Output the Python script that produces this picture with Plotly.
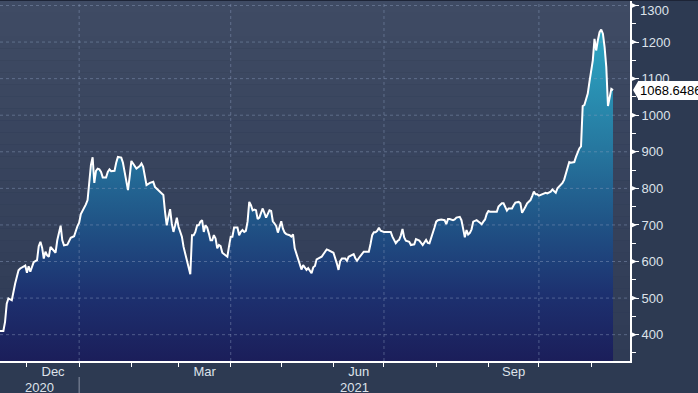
import plotly.graph_objects as go
import pandas as pd

# ---------------- data ----------------
dates = [
    "2020-11-15", "2020-11-17", "2020-11-18", "2020-11-19", "2020-11-20", "2020-11-22", "2020-11-24",
    "2020-11-26", "2020-11-27", "2020-11-29", "2020-11-30", "2020-12-01", "2020-12-02", "2020-12-03",
    "2020-12-04", "2020-12-05", "2020-12-07", "2020-12-08", "2020-12-09", "2020-12-10", "2020-12-11",
    "2020-12-12", "2020-12-13", "2020-12-14", "2020-12-15", "2020-12-17", "2020-12-18", "2020-12-19",
    "2020-12-20", "2020-12-21", "2020-12-22", "2020-12-23", "2020-12-25", "2020-12-26", "2020-12-27",
    "2020-12-28", "2020-12-29", "2020-12-31", "2021-01-01", "2021-01-02", "2021-01-03", "2021-01-04",
    "2021-01-05", "2021-01-06", "2021-01-07", "2021-01-08", "2021-01-09", "2021-01-10", "2021-01-11",
    "2021-01-12", "2021-01-13", "2021-01-14", "2021-01-15", "2021-01-17", "2021-01-18", "2021-01-19",
    "2021-01-20", "2021-01-22", "2021-01-23", "2021-01-24", "2021-01-26", "2021-01-27", "2021-01-28",
    "2021-01-29", "2021-01-30", "2021-01-31", "2021-02-01", "2021-02-02", "2021-02-03", "2021-02-04",
    "2021-02-06", "2021-02-07", "2021-02-08", "2021-02-09", "2021-02-10", "2021-02-12", "2021-02-14",
    "2021-02-15", "2021-02-16", "2021-02-18", "2021-02-20", "2021-02-21", "2021-02-22", "2021-02-23",
    "2021-02-24", "2021-02-25", "2021-02-26", "2021-02-27", "2021-02-28", "2021-03-01", "2021-03-03",
    "2021-03-04", "2021-03-06", "2021-03-07", "2021-03-08", "2021-03-09", "2021-03-10", "2021-03-11",
    "2021-03-12", "2021-03-13", "2021-03-14", "2021-03-15", "2021-03-16", "2021-03-17", "2021-03-18",
    "2021-03-19", "2021-03-20", "2021-03-21", "2021-03-22", "2021-03-23", "2021-03-24", "2021-03-25",
    "2021-03-26", "2021-03-27", "2021-03-29", "2021-03-30", "2021-03-31", "2021-04-01", "2021-04-02",
    "2021-04-03", "2021-04-05", "2021-04-06", "2021-04-07", "2021-04-08", "2021-04-09", "2021-04-10",
    "2021-04-11", "2021-04-12", "2021-04-13", "2021-04-14", "2021-04-15", "2021-04-16", "2021-04-17",
    "2021-04-18", "2021-04-19", "2021-04-20", "2021-04-22", "2021-04-23", "2021-04-24", "2021-04-25",
    "2021-04-26", "2021-04-27", "2021-04-28", "2021-04-29", "2021-04-30", "2021-05-01", "2021-05-02",
    "2021-05-03", "2021-05-04", "2021-05-06", "2021-05-07", "2021-05-08", "2021-05-09", "2021-05-10",
    "2021-05-12", "2021-05-13", "2021-05-14", "2021-05-15", "2021-05-16", "2021-05-17", "2021-05-19",
    "2021-05-20", "2021-05-21", "2021-05-22", "2021-05-23", "2021-05-25", "2021-05-26", "2021-05-28",
    "2021-05-29", "2021-05-31", "2021-06-01", "2021-06-03", "2021-06-04", "2021-06-05", "2021-06-06",
    "2021-06-08", "2021-06-09", "2021-06-10", "2021-06-11", "2021-06-13", "2021-06-14", "2021-06-15",
    "2021-06-16", "2021-06-18", "2021-06-19", "2021-06-20", "2021-06-22", "2021-06-23", "2021-06-24",
    "2021-06-25", "2021-06-26", "2021-06-27", "2021-06-28", "2021-06-29", "2021-07-01", "2021-07-03",
    "2021-07-05", "2021-07-06", "2021-07-08", "2021-07-09", "2021-07-10", "2021-07-11", "2021-07-12",
    "2021-07-13", "2021-07-14", "2021-07-16", "2021-07-17", "2021-07-19", "2021-07-20", "2021-07-22",
    "2021-07-23", "2021-07-24", "2021-07-26", "2021-07-27", "2021-07-28", "2021-07-29", "2021-07-30",
    "2021-07-31", "2021-08-01", "2021-08-02", "2021-08-04", "2021-08-06", "2021-08-07", "2021-08-08",
    "2021-08-09", "2021-08-11", "2021-08-12", "2021-08-13", "2021-08-15", "2021-08-16", "2021-08-17",
    "2021-08-18", "2021-08-19", "2021-08-20", "2021-08-21", "2021-08-22", "2021-08-23", "2021-08-24",
    "2021-08-25", "2021-08-27", "2021-08-28", "2021-08-29", "2021-08-30", "2021-08-31", "2021-09-01",
    "2021-09-02", "2021-09-04", "2021-09-06", "2021-09-07", "2021-09-09", "2021-09-10", "2021-09-11",
    "2021-09-12", "2021-09-13", "2021-09-15", "2021-09-16", "2021-09-17", "2021-09-19", "2021-09-20",
    "2021-09-21", "2021-09-22", "2021-09-23", "2021-09-24", "2021-09-26", "2021-09-27", "2021-09-28",
    "2021-09-29", "2021-09-30", "2021-10-01", "2021-10-04", "2021-10-05", "2021-10-06", "2021-10-08",
    "2021-10-09", "2021-10-10", "2021-10-11", "2021-10-12", "2021-10-14", "2021-10-15", "2021-10-16",
    "2021-10-17", "2021-10-18", "2021-10-19", "2021-10-20", "2021-10-22", "2021-10-23", "2021-10-24",
    "2021-10-25", "2021-10-26", "2021-10-27", "2021-10-28", "2021-10-29", "2021-10-30", "2021-10-31",
    "2021-11-01", "2021-11-02", "2021-11-03", "2021-11-04", "2021-11-05", "2021-11-06", "2021-11-07",
    "2021-11-08", "2021-11-09", "2021-11-10", "2021-11-11", "2021-11-12", "2021-11-13", "2021-11-14",
]
values = [
    410, 410, 435, 485, 499, 494, 540,
    576, 581, 587, 589, 569, 587, 572,
    587, 598, 604, 642, 654, 638, 608,
    627, 617, 613, 640, 629, 624, 658,
    681, 698, 658, 644, 646, 654, 665,
    667, 669, 697, 706, 730, 739, 745,
    756, 768, 822, 864, 885, 815, 848,
    854, 852, 845, 830, 830, 845, 852,
    847, 848, 870, 886, 884, 870, 845,
    815, 795, 832, 875, 868, 861, 854,
    861, 868, 859, 832, 809, 815, 818,
    804, 800, 791, 782, 736, 699, 722,
    743, 704, 681, 699, 720, 695, 668,
    640, 599, 581, 565, 672, 672, 681,
    699, 699, 709, 713, 681, 699, 693,
    677, 658, 658, 672, 663, 636, 645,
    642, 624, 615, 613, 642, 668, 668,
    693, 693, 672, 681, 686, 681, 684,
    709, 763, 754, 740, 742, 740, 716,
    720, 733, 745, 720, 729, 740, 738,
    710, 704, 697, 679, 695, 710, 690,
    679, 675, 672, 668, 674, 636, 622,
    595, 578, 590, 584, 577, 582, 568,
    584, 588, 606, 609, 613, 620, 633,
    631, 627, 624, 595, 577, 601, 608,
    608, 602, 613, 615, 620, 609, 602,
    609, 620, 627, 627, 627, 648, 672,
    680, 680, 684, 692, 684, 681, 681,
    681, 668, 650, 656, 659, 671, 689,
    666, 657, 654, 645, 647, 661, 657,
    651, 645, 659, 651, 650, 663, 681,
    693, 709, 713, 715, 713, 702, 716,
    716, 713, 715, 720, 722, 713, 690,
    666, 686, 674, 678, 688, 709, 711,
    713, 706, 702, 709, 715, 730, 738,
    736, 736, 736, 750, 759, 759, 750,
    739, 745, 745, 754, 761, 763, 759,
    733, 740, 750, 759, 768, 779, 791,
    784, 784, 780, 785, 788, 786, 791,
    797, 791, 788, 800, 809, 815, 824,
    840, 854, 872, 870, 872, 886, 900,
    909, 915, 1025, 1028, 1041, 1059, 1091,
    1123, 1150, 1209, 1177, 1205, 1227, 1234,
    1223, 1186, 1132, 1025, 1050, 1072, 1068.6486,
]
assert len(dates) == len(values)
last_label = "1068.6486"

y_ticks = [400, 500, 600, 700, 800, 900, 1000, 1100, 1200, 1300]
y_ticktext = ["400", "500", "600", "700", "800", "900", "1000", "1100", "1200", "1300"]
month_label_starts = ["2020-12-01", "2021-03-01", "2021-06-01", "2021-09-01"]
month_labels = ["Dec", "Mar", "Jun", "Sep"]
grid_dates = ["2021-01-01", "2021-04-01", "2021-07-01", "2021-10-01"]
years = ["2020", "2021"]
year_break = "2021-01-01"

# ---------------- layout constants ----------------
W, H = 698, 393
M_L, M_R, M_T, M_B = 0, 68, 0, 32
PW = W - M_L - M_R
PH = H - M_T - M_B
X_RANGE = ["2020-11-15", "2021-11-24 02:00"]
Y_RANGE = [328, 1315]
PX_PER_UNIT = PH / (Y_RANGE[1] - Y_RANGE[0])

PAPER_BG = "#2d3a52"
BG_TOP = (63, 75, 100)
BG_BOT = (47, 59, 85)
GRID = "rgba(140,158,190,0.45)"
TEXT = "#dde2ea"
FONT = "Liberation Sans, Arial, sans-serif"

fig = go.Figure()

# area fill with vertical gradient
fig.add_trace(go.Scatter(
    x=dates, y=values, mode="none", fill="tozeroy",
    fillgradient=dict(
        type="vertical",
        colorscale=[
            [0.0, "#1b1e5a"],
            [0.2, "#1d3170"],
            [0.42, "#205587"],
            [0.63, "#26779f"],
            [0.84, "#2a95b6"],
            [1.0, "#2ea8c4"],
        ],
        start=Y_RANGE[0], stop=1250,
    ),
    hoverinfo="skip", showlegend=False,
))

# dashed grid lines (drawn over the fill, under the line)
for v in y_ticks:
    fig.add_trace(go.Scatter(
        x=X_RANGE, y=[v, v], mode="lines",
        line=dict(color=GRID, width=1, dash="3px,3px"),
        hoverinfo="skip", showlegend=False,
    ))
for d in grid_dates:
    fig.add_trace(go.Scatter(
        x=[d, d], y=Y_RANGE, mode="lines",
        line=dict(color=GRID, width=1, dash="3px,3px"),
        hoverinfo="skip", showlegend=False,
    ))

# the price line
fig.add_trace(go.Scatter(
    x=dates, y=values, mode="lines",
    line=dict(color="white", width=2),
    hoverinfo="skip", showlegend=False,
))

shapes = []
# plot background gradient bands
N = 30
for i in range(N):
    t = i / (N - 1)
    c = tuple(round(BG_BOT[k] + (BG_TOP[k] - BG_BOT[k]) * t) for k in range(3))
    shapes.append(dict(
        type="rect", xref="paper", yref="paper", x0=0, x1=1,
        y0=i / N, y1=(i + 1) / N, fillcolor="rgb(%d,%d,%d)" % c,
        line=dict(width=0), layer="below",
    ))

# triangular tick markers on the right axis
tri_h = 3.2 / PX_PER_UNIT
tri_w = 7 / PW
for v in y_ticks:
    shapes.append(dict(
        type="path", xref="paper", yref="y",
        path="M 1,%f L %f,%f L 1,%f Z" % (v + tri_h, 1 + tri_w, v, v - tri_h),
        fillcolor="white", line=dict(width=0), layer="above",
    ))

# pointer of the last-value label
ptr_h = 9.5 / PX_PER_UNIT
shapes.append(dict(
    type="path", xref="paper", yref="y",
    path="M %f,%f L %f,%f L %f,%f Z" % (
        1 + 8.5 / PW, values[-1] + ptr_h, 1 + 3 / PW, values[-1],
        1 + 8.5 / PW, values[-1] - ptr_h),
    fillcolor="white", line=dict(width=0), layer="above",
))

# year separator under the axis
shapes.append(dict(
    type="line", xref="x", yref="paper", x0=year_break, x1=year_break,
    y0=-16 / PH, y1=-(H - PH) / PH, line=dict(color="#8a93a6", width=1),
))
# thin dark line at the very top
shapes.append(dict(
    type="line", xref="paper", yref="paper", x0=0, x1=W / PW, y0=1, y1=1,
    line=dict(color="#1d2436", width=2),
))

# month label positions: middle of each labelled month
def month_mid(s):
    a = pd.Timestamp(s)
    b = a + pd.offsets.MonthBegin(1)
    return (a + (b - a) / 2).isoformat()

tick_centers = [month_mid(s) for s in month_label_starts]

x0 = pd.Timestamp(X_RANGE[0])
x1 = pd.Timestamp(X_RANGE[1])
yb = pd.Timestamp(year_break)
year_pos = [(x0 + (yb - x0) / 2).isoformat(), (yb + (x1 - yb) / 2).isoformat()]

annotations = []
for yr, pos in zip(years, year_pos):
    annotations.append(dict(
        x=pos, xref="x", y=-26 / PH, yref="paper", text=yr, showarrow=False,
        xanchor="center", yanchor="middle", font=dict(family=FONT, size=13, color=TEXT),
    ))
# top tick label is nudged down so it stays inside the picture
annotations.append(dict(
    x=1, xref="paper", y=y_ticks[-1], yref="y", text=y_ticktext[-1], showarrow=False,
    xanchor="left", yanchor="middle", xshift=8, yshift=-5,
    font=dict(family=FONT, size=13, color=TEXT),
))
annotations.append(dict(
    x=1, xref="paper", y=values[-1], yref="y", text=last_label, showarrow=False,
    xanchor="left", yanchor="middle", xshift=8, bgcolor="white", borderpad=1,
    borderwidth=1, bordercolor="white",
    font=dict(family=FONT, size=13, color="black"),
))

fig.update_layout(
    width=W, height=H,
    margin=dict(l=M_L, r=M_R, t=M_T, b=M_B, pad=0, autoexpand=False),
    paper_bgcolor=PAPER_BG, plot_bgcolor=PAPER_BG,
    font=dict(family=FONT, size=13, color=TEXT),
    showlegend=False,
    shapes=shapes,
    annotations=annotations,
    xaxis=dict(
        type="date", range=X_RANGE, showgrid=False, zeroline=False, automargin=False,
        tickmode="array", tickvals=tick_centers, ticktext=month_labels,
        ticks="", showline=True, linecolor="white", linewidth=2,
        ticklabelstandoff=-3,
        tickfont=dict(family=FONT, size=13, color=TEXT),
        minor=dict(ticks="outside", ticklen=4, tickwidth=1, tickcolor="white",
                   dtick="M1", tick0="2020-12-01", showgrid=False),
    ),
    yaxis=dict(
        side="right", range=Y_RANGE, showgrid=False, zeroline=False, automargin=False,
        tickmode="array", tickvals=y_ticks, ticktext=y_ticktext[:-1] + [""],
        ticks="outside", ticklen=7, tickwidth=1, tickcolor="white",
        showline=True, linecolor="white", linewidth=2,
        tickfont=dict(family=FONT, size=13, color=TEXT),
        minor=dict(ticks="outside", ticklen=4, tickwidth=1, tickcolor="white",
                   dtick=50, tick0=0, showgrid=False),
    ),
)

fig.write_html(
    "out.html",
    config={"displayModeBar": False},
    post_script="document.body.style.margin='0';document.body.style.background='%s';" % PAPER_BG,
)
